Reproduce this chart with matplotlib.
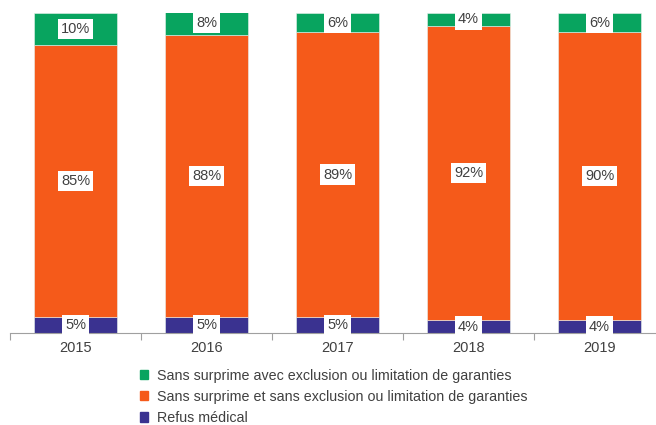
import numpy as np
import matplotlib.pyplot as plt
from matplotlib.patches import Patch

plt.rcParams['font.family'] = ['Liberation Sans', 'DejaVu Sans']

years = ['2015', '2016', '2017', '2018', '2019']
refus = [5, 5, 5, 4, 4]
sans_excl = [85, 88, 89, 92, 90]
avec_excl = [10, 8, 6, 4, 6]

lab_avec = 'Sans surprime avec exclusion ou limitation de garanties'
lab_sans = 'Sans surprime et sans exclusion ou limitation de garanties'
lab_refus = 'Refus médical'

c_green = '#08A45F'
c_orange = '#F55A1A'
c_blue = '#3A3290'
txt = '#404040'

fig = plt.figure(figsize=(6.56, 4.25), dpi=100)
ax = fig.add_axes([10/656, (425-333)/425, 655/656, 320/425])

x = np.arange(len(years))
w = 0.63
bottom = np.zeros(len(years))
for vals, col in [(refus, c_blue), (sans_excl, c_orange), (avec_excl, c_green)]:
    vals = np.array(vals, dtype=float)
    ax.bar(x, vals, w, bottom=bottom, color=col, edgecolor='#e8f2ee', linewidth=0.4)
    for xi, b, v in zip(x, bottom, vals):
        ax.text(xi, b + v / 2, f'{int(v)}%', ha='center', va='center', fontsize=10.5, color=txt,
                bbox=dict(boxstyle='square,pad=0.22', fc='white', ec='none'))
    bottom += vals

ax.set_xlim(-0.5, 4.5)
ax.set_ylim(0, 100)
ax.set_yticks([])
ax.set_xticks(np.arange(-0.5, 5, 1), minor=False)
ax.set_xticklabels([])
ax.set_xticks(x, minor=True)
ax.set_xticklabels(years, minor=True, fontsize=10.5, color=txt)
ax.tick_params(axis='x', which='major', length=5, color='#a0a0a0', direction='out')
ax.tick_params(axis='x', which='minor', length=0, pad=6)
for s in ['top', 'right', 'left']:
    ax.spines[s].set_visible(False)
ax.spines['bottom'].set_color('#a0a0a0')

handles = [Patch(color=c_green, label=lab_avec),
           Patch(color=c_orange, label=lab_sans),
           Patch(color=c_blue, label=lab_refus)]
fig.legend(handles=handles, loc='upper left', bbox_to_anchor=(134/656, 1 - 363/425),
           frameon=False, fontsize=10.3, labelcolor=txt, handlelength=0.6, handleheight=0.6,
           handletextpad=0.6, labelspacing=0.5, borderaxespad=0)

fig.savefig('out.png', dpi=100)
